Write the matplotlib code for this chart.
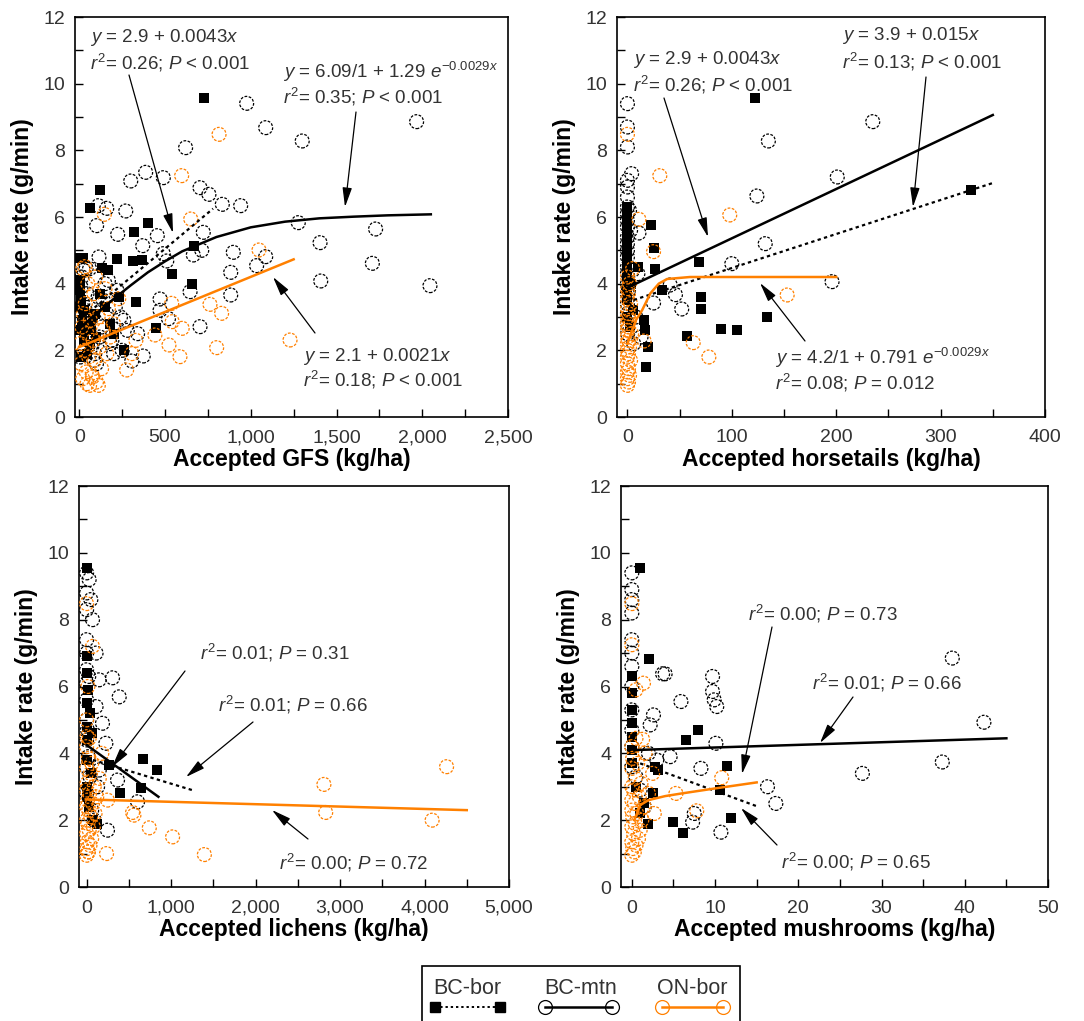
import matplotlib
matplotlib.use('Agg')
import matplotlib.pyplot as plt
from matplotlib.ticker import MultipleLocator, FuncFormatter
from matplotlib.lines import Line2D
from matplotlib.patches import Rectangle, FancyArrowPatch

plt.rcParams['font.family'] = ['Liberation Sans', 'DejaVu Sans']
plt.rcParams['mathtext.fontset'] = 'custom'
plt.rcParams['mathtext.rm'] = 'Liberation Sans'
plt.rcParams['mathtext.it'] = 'Liberation Sans:italic'
plt.rcParams['mathtext.bf'] = 'Liberation Sans:bold'

ORANGE = '#ff8000'
TXT = '#333333'
W, H = 1084, 1021

# ---------------- data ----------------
groups = ['BC-bor', 'BC-mtn', 'ON-bor']
y_label = 'Intake rate (g/min)'
x_labels = ['Accepted GFS (kg/ha)', 'Accepted horsetails (kg/ha)',
            'Accepted lichens (kg/ha)', 'Accepted mushrooms (kg/ha)']

# ON-bor low-forage cluster (intake rates), shared across panels
on_low_y = [0.95, 1.05, 1.15, 1.25, 1.35, 1.45, 1.6, 1.7, 1.8, 1.9, 2.0, 2.1, 2.2, 2.3, 2.4,
            2.5, 2.6, 2.7, 2.8, 2.9, 3.0, 3.1, 3.25, 3.4, 3.55, 3.7, 3.85, 4.0, 4.2, 4.45]

# Panel 1: GFS
gfs_bor_x = [727, 118, 60, 400, 320, 670, 540, 660, 5, 22, 218, 315, 363, 130, 170, 330, 450,
             5, 10, 15, 30, 40, 60, 80, 100, 120, 150, 180, 200, 230, 260, 10, 25, 45, 70, 90, 0, 0, 5]
gfs_bor_y = [9.56, 6.82, 6.26, 5.82, 5.54, 5.12, 4.28, 3.98, 4.78, 4.78, 4.75, 4.68, 4.71, 4.48, 4.42, 3.46, 2.66,
             3.8, 3.5, 2.9, 3.2, 2.6, 2.2, 3.0, 2.4, 3.7, 3.3, 2.8, 2.5, 3.6, 2.0, 1.8, 2.3, 1.9, 2.7, 3.1, 2.6, 3.3, 4.1]
gfs_mtn_x = [976, 1087, 1300, 1967, 620, 387, 490, 300, 704, 756, 834, 941, 271, 111, 160, 101, 224, 723, 455, 370,
             1277, 1728, 1404, 714, 665, 898, 1034, 1087, 1709, 883, 510, 490, 1408, 2045, 646, 883, 471, 704, 373, 520,
             306, 340, 471, 40, 60, 115, 150,
             10, 20, 30, 50, 70, 90, 110, 130, 160, 190, 220, 250, 280, 15, 35, 55, 85, 120, 140, 180, 200, 240,
             5, 25, 45, 75, 100, 170, 210, 260]
gfs_mtn_y = [9.41, 8.68, 8.28, 8.86, 8.08, 7.34, 7.18, 7.08, 6.88, 6.68, 6.38, 6.34, 6.18, 6.34, 6.26, 5.74, 5.48, 5.54, 5.44, 5.14,
             5.83, 5.64, 5.23, 5.00, 4.86, 4.94, 4.54, 4.81, 4.61, 4.34, 4.68, 4.90, 4.08, 3.94, 3.76, 3.66, 3.54, 2.71, 1.83, 2.95,
             1.68, 2.50, 3.20, 4.45, 4.45, 4.80, 4.00,
             3.9, 3.4, 2.9, 2.5, 2.1, 1.9, 3.6, 2.7, 3.1, 2.3, 3.8, 2.0, 2.6, 4.2, 3.2, 2.8, 1.7, 2.4, 3.5, 2.2, 1.9, 3.0,
             1.8, 4.4, 3.7, 2.2, 1.6, 4.1, 3.3, 2.9]
gfs_on_x = [815, 597, 650, 146, 1048, 33, 762, 830, 539, 542, 600, 441, 523, 587, 801, 1229, 276, 330, 306, 45, 111, 78]
gfs_on_y = [8.48, 7.24, 5.94, 6.08, 5.01, 4.51, 3.38, 3.11, 3.41, 2.86, 2.66, 2.46, 2.16, 1.81, 2.08, 2.31, 1.41, 2.30, 1.90, 1.00, 0.95, 1.20]
gfs_on_low_x = [60, 100, 20, 75, 40, 130, 10, 90, 55, 160, 30, 120, 5, 80, 180, 45, 140, 15, 200, 65,
                110, 25, 170, 35, 230, 85, 150, 50, 95, 20]

# Panel 2: horsetails
horse_bor_x = [122, 329, 23, 25, 26, 33, 69, 70, 70, 134, 90, 105, 57, 20, 18, 16, 17, 10,
               0, 0, 0, 0, 0, 0, 0, 0, 0, 0, 0, 0, 2, 3, 5]
horse_bor_y = [9.56, 6.82, 5.76, 5.08, 4.43, 3.82, 4.66, 3.60, 3.24, 3.00, 2.63, 2.60, 2.42, 2.10, 1.50, 2.90, 2.60, 4.50,
               6.30, 6.10, 5.80, 5.50, 5.20, 4.90, 4.70, 4.40, 4.10, 3.80, 3.50, 3.00, 2.70, 4.00, 3.20]
horse_mtn_x = [0, 0, 0, 4, 235, 135, 201, 124, 132, 100, 196, 41, 46, 52, 25, 11, 13,
               0, 0, 0, 0, 0, 0, 0, 0, 0, 0, 0, 0, 0, 0, 0, 0, 0, 0, 0,
               2, 3, 5, 8, 1, 6, 10]
horse_mtn_y = [9.40, 8.70, 8.10, 7.30, 8.86, 8.28, 7.20, 6.63, 5.20, 4.60, 4.06, 3.96, 3.67, 3.24, 3.42, 5.52, 2.40,
               7.10, 6.90, 6.60, 6.30, 6.10, 5.90, 5.70, 5.40, 5.20, 5.00, 4.80, 4.50, 4.30, 4.00, 3.70, 3.40, 3.10, 2.80, 2.50,
               6.20, 5.60, 4.40, 3.00, 3.80, 2.20, 4.30]
horse_on_x = [0, 31, 11, 98, 25, 153, 63, 78, 16]
horse_on_y = [8.48, 7.24, 5.93, 6.06, 4.96, 3.66, 2.23, 1.80, 2.28]
horse_on_low_x = [0, 1, 0, 2, 0, 1, 0, 3, 0, 1, 0, 2, 0, 1, 0, 4, 0, 1, 0, 2,
                  0, 1, 0, 3, 0, 1, 0, 2, 0, 5]

# Panel 3: lichens
lich_bor_x = [10, 663, 829, 394, 643, 270, 0, 0, 0, 0, 0, 0, 0, 20, 40, 60, 30, 80, 120, 10, 50]
lich_bor_y = [9.56, 3.82, 3.50, 2.82, 2.95, 3.65, 6.90, 6.40, 5.50, 4.80, 4.40, 3.80, 3.00, 5.90, 5.20, 4.60, 2.40, 2.00, 1.90, 2.70, 3.40]
lich_mtn_x = [307, 386, 149, 188, 228, 366, 603, 247, 112, 70, 112, 50, 30, 0, 0, 0, 0, 0, 0, 0, 0, 0, 0, 0, 0,
              20, 40, 60, 90, 130, 150, 10, 25]
lich_mtn_y = [6.26, 5.69, 6.20, 4.90, 4.30, 3.20, 2.55, 1.70, 5.40, 8.00, 7.00, 8.60, 9.20, 9.40, 8.80, 8.30, 7.40,
              7.00, 6.50, 6.10, 5.60, 5.00, 4.40, 3.60, 2.80, 3.90, 3.30, 2.30, 2.00, 3.00, 3.50, 4.70, 6.30]
lich_on_x = [4261, 2809, 2830, 4090, 544, 560, 742, 1018, 1394, 236, 70, 247, 20, 0, 15, 0, 5]
lich_on_y = [3.60, 3.07, 2.23, 2.00, 2.23, 2.15, 1.77, 1.50, 0.97, 1.00, 7.20, 2.60, 1.05, 8.48, 6.00, 5.00, 4.50]
lich_on_low_x = [0, 20, 5, 40, 10, 60, 0, 30, 80, 15, 0, 50, 100, 25, 0, 70, 10, 120, 35, 0,
                 90, 5, 150, 45, 0, 60, 20, 180, 0, 30]

# Panel 4: mushrooms
mush_bor_x = [1.0, 2.1, 6.5, 8.0, 11.4, 10.6, 5.0, 6.1, 11.9, 2.8, 3.2, 0, 0, 0, 0, 0, 0, 0, 0.5, 1.5, 2.0, 2.5, 1.0]
mush_bor_y = [9.54, 6.82, 4.40, 4.70, 3.63, 2.90, 1.94, 1.63, 2.07, 3.60, 3.50, 6.30, 5.80, 5.30, 4.90, 4.50, 4.10, 3.70,
              3.00, 2.50, 1.90, 2.80, 2.20]
mush_mtn_x = [38.5, 42.3, 37.3, 27.7, 4.0, 3.7, 5.9, 9.7, 9.7, 9.9, 10.2, 10.1, 4.6, 8.3, 16.3, 17.3, 10.7, 7.3, 7.5, 2.6, 2.2,
              0, 0, 0, 0, 0, 0, 0, 0, 0, 0, 0, 0, 0.5, 1.0, 1.5, 2.0, 3.0]
mush_mtn_y = [6.85, 4.93, 3.74, 3.40, 6.38, 6.38, 5.55, 6.30, 5.85, 5.60, 5.40, 4.30, 3.90, 3.55, 3.00, 2.50, 1.64, 1.94, 2.20, 5.15, 4.85,
              9.40, 8.90, 8.60, 8.20, 7.40, 7.00, 6.60, 6.00, 5.30, 4.70, 4.20, 3.60, 3.30, 2.90, 2.40, 4.00, 3.80]
mush_on_x = [0, 1.4, 10.8, 5.3, 7.8, 2.7, 1.3, 0, 0.5]
mush_on_y = [8.48, 6.10, 3.27, 2.80, 2.28, 2.20, 4.42, 7.25, 5.90]
mush_on_low_x = [0, 0.3, 0.1, 0.5, 0, 0.8, 0.2, 1.0, 0, 0.4, 1.2, 0.1, 0.6, 0, 1.5, 0.3, 0, 0.9, 2.0, 0.2,
                 0, 1.1, 0.4, 2.5, 0, 0.7, 0.1, 1.6, 0, 0.5]

# fitted lines (vertices)
gfs_bor_fit = ([0, 780], [2.9, 6.25])
gfs_mtn_fit = ([0, 100, 200, 300, 400, 500, 600, 800, 1000, 1200, 1400, 1600, 1800, 2050],
               [2.66, 3.10, 3.54, 3.95, 4.34, 4.67, 4.97, 5.40, 5.69, 5.86, 5.96, 6.01, 6.05, 6.08])
gfs_on_fit = ([0, 1250], [2.1, 4.73])
horse_bor_fit = ([0, 350], [3.45, 7.02])
horse_mtn_fit = ([0, 350], [3.88, 9.06])
horse_on_fit = ([0, 8, 14, 22, 30, 38, 60, 200], [2.2, 2.9, 3.2, 3.71, 4.0, 4.14, 4.2, 4.2])
lich_bor_fit = ([0, 1250], [3.86, 2.9])
lich_mtn_fit = ([0, 850], [4.25, 2.7])
lich_on_fit = ([0, 4500], [2.62, 2.3])
mush_bor_fit = ([1.0, 15.2], [3.7, 2.4])
mush_mtn_fit = ([0.5, 45], [4.1, 4.45])
mush_on_fit = ([0.3, 1, 2, 4, 6, 10, 15], [2.0, 2.45, 2.6, 2.72, 2.8, 2.95, 3.13])

# ---------------- figure ----------------
fig = plt.figure(figsize=(W / 100, H / 100), dpi=100)


def rect(l, r, t, b):
    return [l / W, 1 - b / H, (r - l) / W, (b - t) / H]


DASH_C = (0, (2.2, 1.2))


def panel(r, xlim, major, minor, xlabel, bor, mtn, on, on_low_x, fits):
    ax = fig.add_axes(r)
    ax.scatter(mtn[0], mtn[1], s=100, facecolors='none', edgecolors='k',
               linewidths=0.9, linestyles=[DASH_C], zorder=3)
    ax.scatter(bor[0], bor[1], s=45, marker='s', c='k', linewidths=0, zorder=4)
    ax.scatter(list(on[0]) + list(on_low_x), list(on[1]) + list(on_low_y), s=100,
               facecolors='none', edgecolors=ORANGE, linewidths=0.9,
               linestyles=[DASH_C], zorder=5)
    fb, fm, fo = fits
    ax.plot(fb[0], fb[1], color='k', lw=1.6, ls=(0, (1.5, 1.5)), zorder=6)
    ax.plot(fm[0], fm[1], color='k', lw=1.8, zorder=6)
    ax.plot(fo[0], fo[1], color=ORANGE, lw=1.8, zorder=7)
    ax.set_xlim(*xlim)
    ax.set_ylim(0, 12)
    ax.xaxis.set_major_locator(MultipleLocator(major))
    ax.xaxis.set_minor_locator(MultipleLocator(minor))
    ax.yaxis.set_major_locator(MultipleLocator(2))
    ax.yaxis.set_minor_locator(MultipleLocator(1))
    ax.xaxis.set_major_formatter(FuncFormatter(lambda v, p: f'{v:,.0f}'))
    ax.tick_params(which='both', direction='in', top=False, right=False,
                   length=6, width=1.0, labelsize=14, labelcolor=TXT)
    ax.tick_params(axis='x', which='both', pad=9)
    ax.tick_params(axis='y', which='both', pad=7)
    for s in ax.spines.values():
        s.set_linewidth(1.2)
    ax.set_xlabel(xlabel, fontsize=16.5, fontweight='bold', labelpad=1)
    ax.set_ylabel(y_label, fontsize=16.5, fontweight='bold', labelpad=7)
    return ax


ax1 = panel(rect(75, 508, 17, 417), (-25, 2500), 500, 250, x_labels[0],
            (gfs_bor_x, gfs_bor_y), (gfs_mtn_x, gfs_mtn_y), (gfs_on_x, gfs_on_y), gfs_on_low_x,
            (gfs_bor_fit, gfs_mtn_fit, gfs_on_fit))
ax2 = panel(rect(617, 1045, 17, 417), (-10, 400), 100, 50, x_labels[1],
            (horse_bor_x, horse_bor_y), (horse_mtn_x, horse_mtn_y), (horse_on_x, horse_on_y), horse_on_low_x,
            (horse_bor_fit, horse_mtn_fit, horse_on_fit))
ax3 = panel(rect(79, 509, 486, 887), (-90, 5000), 1000, 500, x_labels[2],
            (lich_bor_x, lich_bor_y), (lich_mtn_x, lich_mtn_y), (lich_on_x, lich_on_y), lich_on_low_x,
            (lich_bor_fit, lich_mtn_fit, lich_on_fit))
ax4 = panel(rect(621, 1048, 486, 887), (-1.3, 50), 10, 5, x_labels[3],
            (mush_bor_x, mush_bor_y), (mush_mtn_x, mush_mtn_y), (mush_on_x, mush_on_y), mush_on_low_x,
            (mush_bor_fit, mush_mtn_fit, mush_on_fit))


def label(x, y, s):
    fig.text(x / W, 1 - y / H, s, ha='left', va='center', fontsize=13.5, color=TXT)


def arrow(x0, y0, x1, y1):
    fig.add_artist(FancyArrowPatch((x0 / W, 1 - y0 / H), (x1 / W, 1 - y1 / H),
                                   transform=fig.transFigure,
                                   arrowstyle='-|>,head_length=0.9,head_width=0.22',
                                   mutation_scale=13, color='k', lw=0.9,
                                   shrinkA=0, shrinkB=0, zorder=10))


# panel 1
label(90, 38, r'$y$ = 2.9 + 0.0043$x$')
label(90, 63, r'$r^2$= 0.26; $P$ < 0.001')
arrow(129, 75, 173, 233)
label(283, 72, r'$y$ = 6.09/1 + 1.29 $e^{-0.0029x}$')
label(283, 97, r'$r^2$= 0.35; $P$ < 0.001')
arrow(356, 112, 345, 207)
label(303, 356, r'$y$ = 2.1 + 0.0021$x$')
label(303, 380, r'$r^2$= 0.18; $P$ < 0.001')
arrow(315, 333, 273, 277)
# panel 2
label(633, 60, r'$y$ = 2.9 + 0.0043$x$')
label(633, 85, r'$r^2$= 0.26; $P$ < 0.001')
arrow(664, 98, 708, 237)
label(842, 35, r'$y$ = 3.9 + 0.015$x$')
label(842, 62, r'$r^2$= 0.13; $P$ < 0.001')
arrow(926, 77, 913, 207)
label(775, 358, r'$y$ = 4.2/1 + 0.791 $e^{-0.0029x}$')
label(775, 383, r'$r^2$= 0.08; $P$ = 0.012')
arrow(805, 341, 760, 283)
# panel 3
label(200, 653, r'$r^2$= 0.01; $P$ = 0.31')
arrow(185, 671, 112, 767)
label(218, 705, r'$r^2$= 0.01; $P$ = 0.66')
arrow(253, 722, 186, 777)
label(279, 863, r'$r^2$= 0.00; $P$ = 0.72')
arrow(308, 839, 272, 810)
# panel 4
label(748, 614, r'$r^2$= 0.00; $P$ = 0.73')
arrow(772, 627, 742, 774)
label(812, 683, r'$r^2$= 0.01; $P$ = 0.66')
arrow(853, 697, 820, 743)
label(781, 862, r'$r^2$= 0.00; $P$ = 0.65')
arrow(777, 845, 741, 808)

# ---------------- legend ----------------
fig.add_artist(Rectangle((421.7 / W, 1 - 1040 / H), (740 - 421.7) / W, (1040 - 966) / H,
                         transform=fig.transFigure, fill=False, lw=1.2, ec='k'))
leg_specs = [
    (groups[0], 467, 435, 500, dict(color='k', ls=(0, (1.2, 1.5)), lw=1.4, marker='s', ms=7,
                                    mfc='k', mec='k')),
    (groups[1], 581, 545, 612, dict(color='k', ls='-', lw=1.8, marker='o', ms=10,
                                    mfc='none', mec='k', mew=0.9)),
    (groups[2], 692, 662, 723, dict(color=ORANGE, ls='-', lw=1.8, marker='o', ms=10,
                                    mfc='none', mec=ORANGE, mew=0.9)),
]
for name, cx, x0, x1, st in leg_specs:
    fig.text(cx / W, 1 - 988 / H, name, ha='center', va='center', fontsize=15.5, color=TXT)
    fig.add_artist(Line2D([x0 / W, x1 / W], [1 - 1007 / H, 1 - 1007 / H],
                          transform=fig.transFigure, **st))

fig.savefig('out.png', dpi=100)
